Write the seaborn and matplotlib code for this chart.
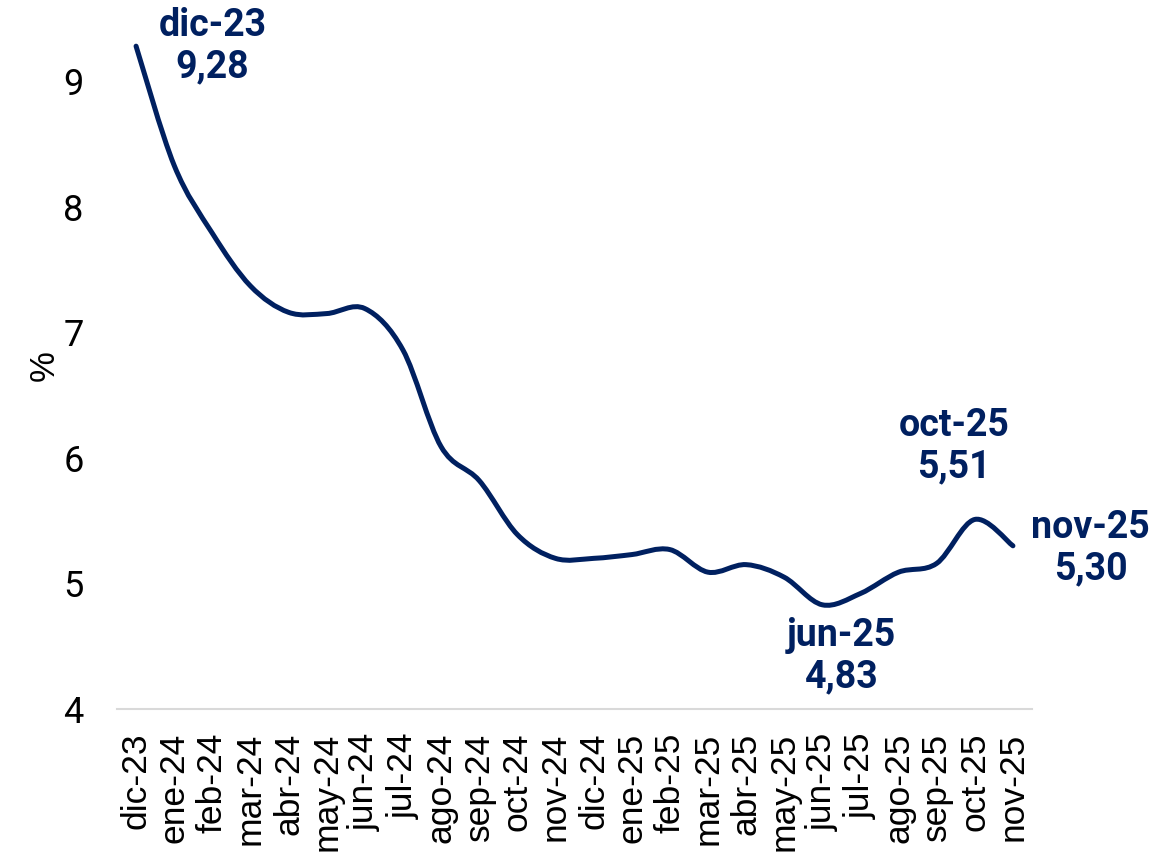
import numpy as np
import pandas as pd
import matplotlib
matplotlib.use("Agg")
import matplotlib.pyplot as plt
from matplotlib.path import Path
from matplotlib.patches import PathPatch
import seaborn as sns

# datos
months = ["dic-23", "ene-24", "feb-24", "mar-24", "abr-24", "may-24", "jun-24",
          "jul-24", "ago-24", "sep-24", "oct-24", "nov-24", "dic-24", "ene-25",
          "feb-25", "mar-25", "abr-25", "may-25", "jun-25", "jul-25", "ago-25",
          "sep-25", "oct-25", "nov-25"]
values = [9.28, 8.33, 7.79, 7.37, 7.16, 7.15, 7.19, 6.86, 6.09, 5.82, 5.39, 5.20,
          5.20, 5.23, 5.27, 5.09, 5.15, 5.05, 4.83, 4.92, 5.09, 5.16, 5.51, 5.30]
highlights = ["dic-23", "jun-25", "oct-25", "nov-25"]

NAVY = "#002060"

df = pd.DataFrame({"mes": months, "valor": values})
df["pos"] = range(len(df))

sns.set_theme(style="white")
plt.rcParams["font.family"] = ["Roboto", "DejaVu Sans"]

fig = plt.figure(figsize=(11.76, 8.56), dpi=100)
ax = fig.add_axes([117 / 1176, 147 / 856, 915 / 1176, 703 / 856])

# seaborn registra los datos; la curva suavizada se dibuja como Bezier (estilo Excel)
sns.lineplot(data=df, x="pos", y="valor", ax=ax, linewidth=0, legend=False)

pts = df[["pos", "valor"]].to_numpy(dtype=float)
verts = [pts[0]]
codes = [Path.MOVETO]
n = len(pts)
for i in range(n - 1):
    p0 = pts[max(i - 1, 0)]
    p1 = pts[i]
    p2 = pts[i + 1]
    p3 = pts[min(i + 2, n - 1)]
    c1 = p1 + (p2 - p0) / 6
    c2 = p2 - (p3 - p1) / 6
    verts += [c1, c2, p2]
    codes += [Path.CURVE4] * 3
ax.add_patch(PathPatch(Path(verts, codes), facecolor="none", edgecolor=NAVY,
                       linewidth=3.6, capstyle="round", joinstyle="round"))

ax.set_xlim(-0.5, len(months) - 0.5)
ax.set_ylim(4, 9.6)
ax.set_yticks([4, 5, 6, 7, 8, 9])
ax.set_xticks(df["pos"])
ax.set_xticklabels(months, rotation=90, family=["Liberation Sans", "DejaVu Sans"],
                   fontsize=25.5, color="black")
ax.tick_params(axis="x", length=0, pad=17)
ax.tick_params(axis="y", length=0, pad=24, labelsize=26, labelcolor="black")
ax.set_xlabel("")
ax.set_ylabel("%", fontsize=25, color="black",
              family=["Liberation Sans", "DejaVu Sans"])
ax.yaxis.set_label_coords(-0.062, 0.489)

for s in ["top", "right", "left"]:
    ax.spines[s].set_visible(False)
ax.spines["bottom"].set_color("#d9d9d9")
ax.spines["bottom"].set_linewidth(1.5)

offsets = {"dic-23": (55, 0), "jun-25": (14, -37), "oct-25": (-15, 53), "nov-25": (56, -1.5)}
for m in highlights:
    row = df[df["mes"] == m].iloc[0]
    txt = f"{m}\n{row['valor']:.2f}".replace(".", ",")
    ax.annotate(txt, xy=(row["pos"], row["valor"]), xytext=offsets[m],
                textcoords="offset points", ha="center", va="center",
                multialignment="center", fontsize=27, fontweight="bold",
                color=NAVY, linespacing=1.15, annotation_clip=False)

fig.savefig("out.png", dpi=100)
